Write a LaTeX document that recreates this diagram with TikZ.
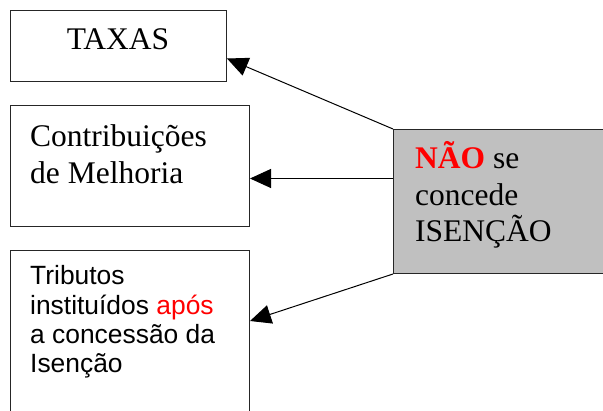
\documentclass[tikz,border=0pt]{standalone}
\usepackage{fontspec}
\setmainfont{Liberation Serif}
\setsansfont{Liberation Sans}
\usetikzlibrary{arrows.meta}
\definecolor{boxgray}{HTML}{C0C0C0}
\begin{document}
\begin{tikzpicture}[x=1pt,y=-1pt,
  box/.style={draw=black!85, line width=1pt, inner sep=0pt, anchor=north west},
  serif/.style={font=\fontsize{31.5}{36.5}\selectfont, inner sep=0pt, align=left, anchor=base west},
  sans/.style={font=\sffamily\fontsize{26.4}{29.3}\selectfont, inner sep=0pt, align=left, anchor=base west},
  arr/.style={line width=1pt, -{Triangle[length=21pt,width=19pt]}}]
\useasboundingbox (0,0) rectangle (603,411);
\clip (0,0) rectangle (603,411);
\node[box, fill=white, minimum width=216pt, minimum height=71pt] (taxas) at (10,10) {};
\node[box, fill=white, minimum width=239pt, minimum height=121pt] (contrib) at (10,105) {};
\node[box, fill=white, minimum width=239pt, minimum height=200pt] (trib) at (10,250) {};
\node[box, fill=boxgray, minimum width=217pt, minimum height=144pt] (gray) at (393,129) {};
\node[serif, anchor=base] (t1) at (118,50) {TAXAS};
\node[serif] (t2) at (30,183.5) {Contribuições\\de Melhoria};
\node[sans] (t3) at (30,372.9) {Tributos\\instituídos \textcolor{red}{após}\\a concessão da\\Isenção};
\node[serif] (t4) at (415,242) {\textcolor{red}{\textbf{NÃO}} se\\concede\\ISENÇÃO};
\coordinate (s2) at ([yshift=23pt]gray.west);
\draw[arr] (gray.north west) -- ([yshift=-12.5pt]taxas.east);
\draw[arr] (s2) -- (s2 -| contrib.east);
\draw[arr] (gray.south west) -- ([yshift=-71pt]trib.north east);
\end{tikzpicture}
\end{document}
